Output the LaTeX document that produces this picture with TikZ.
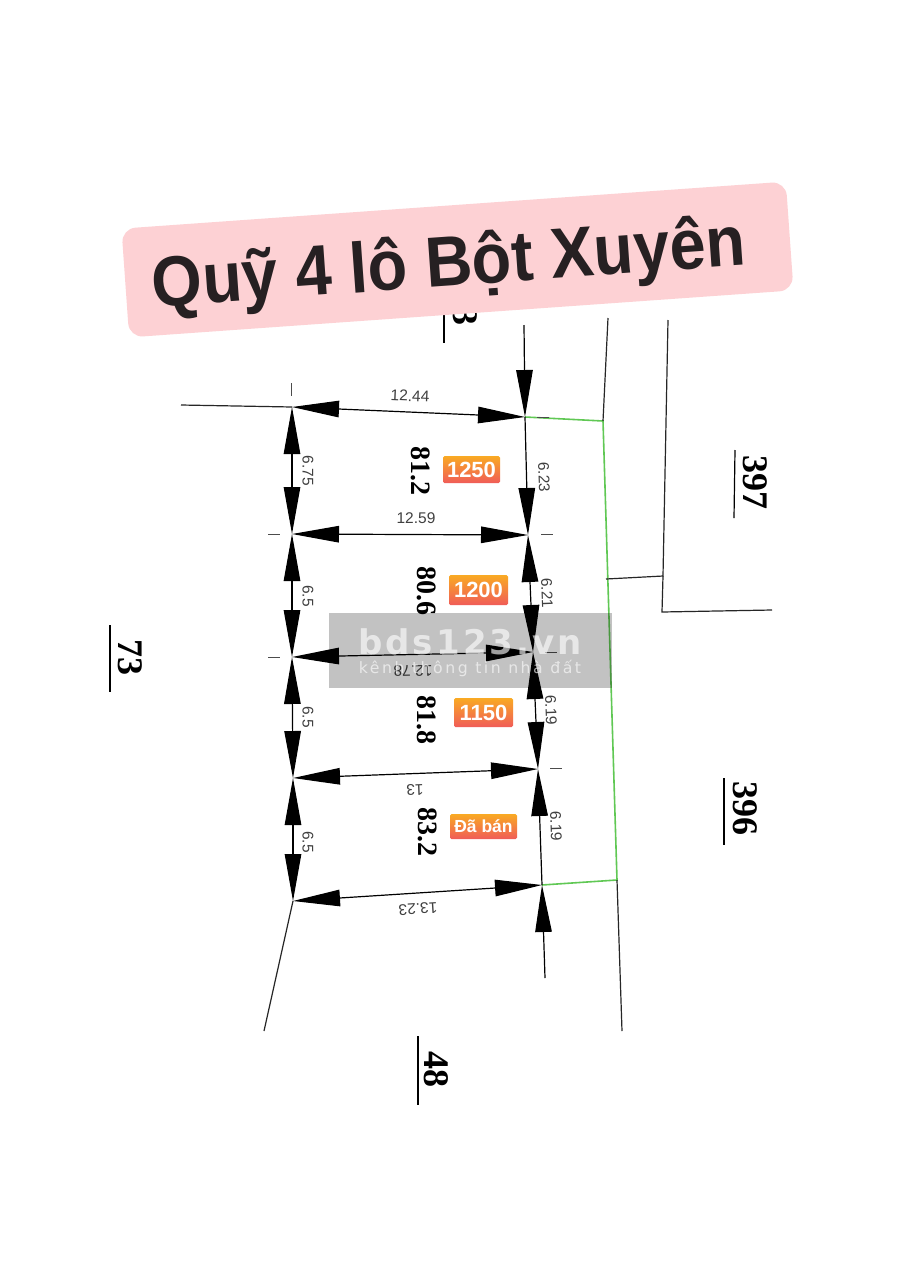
\documentclass[tikz,border=0pt]{standalone}
\usepackage{graphicx}
\usepackage{fontspec}
\setmainfont{Liberation Sans}
\newfontfamily\serifnum{Liberation Serif}
\newfontfamily\wmbig[LetterSpace=9]{DejaVu Sans}
\newfontfamily\wmsmall[LetterSpace=16]{DejaVu Sans}
\usetikzlibrary{arrows.meta}
\definecolor{titlepink}{RGB}{253,209,212}
\definecolor{titleink}{RGB}{38,32,34}
\definecolor{lotgreen}{RGB}{96,200,84}
\definecolor{badgetop}{RGB}{249,170,35}
\definecolor{badgebot}{RGB}{240,92,88}
\tikzset{
  bigtip/.tip={Triangle[length=47pt,width=16.5pt]},
  dimboth/.style={black,line width=1.2pt,{bigtip}-{bigtip}},
  dimend/.style={black,line width=1.2pt,-{bigtip}},
  thin line/.style={draw=black!85,line width=1.2pt},
  plot/.style={draw=lotgreen,line width=1.6pt},
  dimtxt/.style={text=black!75,font=\fontsize{15.5}{17}\selectfont,inner sep=0pt},
  areatxt/.style={text=black,font=\serifnum\bfseries\fontsize{28}{30}\selectfont,inner sep=0pt,rotate=-90},
  parcel/.style={text=black,font=\serifnum\bfseries\fontsize{36}{38}\selectfont,inner sep=0pt,rotate=-90},
  badge/.style={top color=badgetop,bottom color=badgebot,rounded corners=1.5pt,text=white,inner sep=0pt,font=\bfseries\fontsize{22}{24}\selectfont,anchor=center},
}
\begin{document}
\begin{tikzpicture}[x=1pt,y=-1pt]
\useasboundingbox (0,0) rectangle (921,1280);
\fill[white] (0,0) rectangle (921,1280);
% corners
\coordinate (L0) at (292,407);
\coordinate (L1) at (292,534);
\coordinate (L2) at (292,657);
\coordinate (L3) at (293,778);
\coordinate (L4) at (293,901);
\coordinate (R0) at (525,417);
\coordinate (R1) at (528,535);
\coordinate (R2) at (533,652);
\coordinate (R3) at (538,769);
\coordinate (R4) at (542,885);
\coordinate (TopEnd) at (524,325);
\coordinate (BotEnd) at (545,978);
\coordinate (WestEnd) at (181,405);
\coordinate (SW) at (264,1031);
\coordinate (G1) at (603,421);
\coordinate (G2) at (617,880);
\coordinate (G3) at (606,579);
% green plot boundary
\draw[plot] (R0) -- (G1) -- (G2) -- (R4);
% surrounding lines
\coordinate (A1) at (608,318);
\coordinate (A2) at (622,1031);
\coordinate (B1) at (668,320);
\coordinate (B2) at (663,576);
\coordinate (B3) at (662,612);
\coordinate (B4) at (772,610);
\draw[thin line] (A1) -- (G1);
\draw[thin line] (G2) -- (A2);
\draw[thin line] (B1) -- (B2) -- (G3);
\draw[thin line] (B2) -- (B3) -- (B4);
\draw[thin line] (WestEnd) -- (L0);
\draw[thin line] (L4) -- (SW);
% tick marks
\coordinate (T0a) at (291,383); \coordinate (T0b) at (291,396);
\coordinate (T1a) at (268,534); \coordinate (T1b) at (280,534);
\coordinate (T2a) at (268,657); \coordinate (T2b) at (280,657);
\coordinate (T3a) at (541,534); \coordinate (T3b) at (553,534);
\coordinate (T4a) at (545,652); \coordinate (T4b) at (557,652);
\coordinate (T5a) at (550,768); \coordinate (T5b) at (562,768);
\coordinate (T6a) at (537,417); \coordinate (T6b) at (549,417);
\foreach \t in {0,...,6} \draw[black!70,line width=.9pt] (T\t a) -- (T\t b);
% dimension lines
\draw[dimboth] (L0) -- (R0);
\draw[dimboth] (L1) -- (R1);
\draw[dimboth] (L2) -- (R2);
\draw[dimboth] (L3) -- (R3);
\draw[dimboth] (L4) -- (R4);
\draw[dimboth] (L0) -- (L1);
\draw[dimboth] (L1) -- (L2);
\draw[dimboth] (L2) -- (L3);
\draw[dimboth] (L3) -- (L4);
\draw[dimend] (TopEnd) -- (R0);
\draw[dimend] (R0) -- (R1);
\draw[dimboth] (R1) -- (R2);
\draw[dimboth] (R2) -- (R3);
\draw[dimend] (R4) -- (R3);
\draw[dimend] (BotEnd) -- (R4);
% dimension labels
\node[dimtxt,rotate=-2.5] (d1) at (410,396) {12.44};
\node[dimtxt] (d2) at (416,518) {12.59};
\node[dimtxt,rotate=181.2] (d3) at (413,671) {12.78};
\node[dimtxt,rotate=182.1] (d4) at (415,790) {13};
\node[dimtxt,rotate=183.7] (d5) at (418,909) {13.23};
\node[dimtxt,rotate=-90] (d6) at (308,471) {6.75};
\node[dimtxt,rotate=-90] (d7) at (308,596) {6.5};
\node[dimtxt,rotate=-90] (d8) at (308,717) {6.5};
\node[dimtxt,rotate=-90] (d9) at (308,842) {6.5};
\node[dimtxt,rotate=-88] (d10) at (544,477) {6.23};
\node[dimtxt,rotate=-88] (d11) at (547,593) {6.21};
\node[dimtxt,rotate=-88] (d12) at (551,710) {6.19};
\node[dimtxt,rotate=-88] (d13) at (556,826) {6.19};
% areas
\node[areatxt] (a1) at (421,471) {81.2};
\node[areatxt] (a2) at (427,591) {80.6};
\node[areatxt] (a3) at (427,720) {81.8};
\node[areatxt] (a4) at (428,832) {83.2};
% price badges
\node[badge,minimum width=57pt,minimum height=27pt] (p1) at (471.5,469.5) {1250};
\node[badge,minimum width=59pt,minimum height=30pt] (p2) at (478.5,590) {1200};
\node[badge,minimum width=59pt,minimum height=29pt] (p3) at (483.5,712.5) {1150};
\node[badge,minimum width=67pt,minimum height=25pt,font=\bfseries\fontsize{17.5}{19}\selectfont] (p4) at (483.5,826.5) {Đã bán};
% neighbouring parcels
\node[parcel] (n1) at (755,482) {397};
\node[parcel] (n2) at (745,808) {396};
\node[parcel] (n3) at (130,657) {73};
\node[parcel] (n4) at (436,1069) {48};
\node[parcel] (n5) at (465,307) {83};
\coordinate (u1a) at (735,450); \coordinate (u1b) at (734,518);
\coordinate (u2a) at (724,778); \coordinate (u2b) at (724,845);
\coordinate (u3a) at (110,625); \coordinate (u3b) at (110,692);
\coordinate (u4a) at (418,1036); \coordinate (u4b) at (418,1105);
\coordinate (u5a) at (444,295); \coordinate (u5b) at (444,343);
\foreach \u in {1,...,5} \draw[black,line width=1.2pt] (u\u a) -- (u\u b);
% watermark
\fill[black,opacity=.24] (329,613) rectangle (612,688);
\node[text=white,text opacity=.62,inner sep=0pt,font=\wmbig\bfseries\fontsize{34}{36}\selectfont] (wm1) at (470,642) {bds123.vn};
\node[text=white,text opacity=.62,inner sep=0pt,font=\wmsmall\fontsize{15.7}{17}\selectfont] (wm2) at (470,668) {kênh thông tin nhà đất};
% title
\node[fill=titlepink,rounded corners=14pt,rotate=4.05,minimum width=666pt,minimum height=109pt,inner sep=0pt] (titlebox) at (457.5,259.5) {};
\node[rotate=4.05,text=titleink,inner sep=0pt,font=\bfseries\fontsize{71}{75}\selectfont] (title) at (449,267) {\scalebox{.913}[1]{Quỹ 4 lô Bột Xuyên}};
\end{tikzpicture}
\end{document}
